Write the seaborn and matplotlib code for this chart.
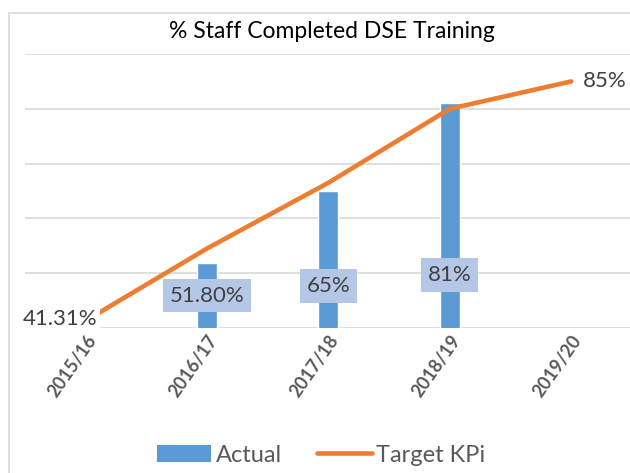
import numpy as np
import pandas as pd
import seaborn as sns
from matplotlib import pyplot as plt
from matplotlib.patches import Patch, Rectangle
from matplotlib.lines import Line2D

seasons = ["2015/16", "2016/17", "2017/18", "2018/19", "2019/20"]
actual = [np.nan, 51.8, 65, 81, np.nan]
actual_labels = ["", "51.80%", "65%", "81%", ""]
target = [41.31, 54.5, 66.5, 80, 85]

sns.set_style("white")
plt.rcParams["font.family"] = ["Lato", "DejaVu Sans"]

blue = "#5B9BD5"
orange = "#ED7D31"
grey_txt = "#404040"

df = pd.DataFrame({"Season": seasons, "Actual": actual, "Target": target})

fig = plt.figure(figsize=(6.3, 4.73), dpi=100)
ax = fig.add_axes([24.75 / 630, 145 / 473, 607.25 / 630, 274 / 473])

sns.barplot(data=df, x="Season", y="Actual", color=blue, width=0.165,
            saturation=1, ax=ax, zorder=2)
pos = np.arange(len(seasons))
sns.lineplot(x=pos, y=df["Target"], color=orange, linewidth=3.3,
             solid_capstyle="round", ax=ax, zorder=3)

ax.set_ylim(40, 90)
ax.set_xlim(-0.5, 4.5)
ax.set_yticks([40, 50, 60, 70, 80, 90])
ax.set_yticklabels([])
ax.tick_params(axis="y", length=0)
ax.yaxis.grid(True, color="#D9D9D9", linewidth=1.2, zorder=0)
ax.set_axisbelow(True)
for s in ax.spines.values():
    s.set_visible(False)
ax.set_xlabel("")
ax.set_ylabel("")
ax.set_xticks(pos)
ax.set_xticklabels(seasons, rotation=55, ha="right", va="top",
                   rotation_mode="anchor", fontsize=13, fontweight="bold",
                   color="#595959")
ax.tick_params(axis="x", length=0, pad=3)

# data labels for Actual (boxes placed a little above the bar base)
label_y = [None, 45.93, 47.66, 49.67, None]
for i, (lab, ly) in enumerate(zip(actual_labels, label_y)):
    if lab:
        ax.text(i, ly, lab, ha="center", va="center", fontsize=16,
                color=grey_txt, zorder=4,
                bbox=dict(boxstyle="square,pad=0.3", fc="#B4C7E7", ec="none"))

# target end labels
ax.annotate(f"{target[0]:.2f}%", (0, target[0]), xytext=(8.3, 1),
            textcoords="offset points", ha="right", va="center",
            fontsize=16, color=grey_txt, zorder=5,
            bbox=dict(boxstyle="square,pad=0.15", fc="white", ec="none"))
ax.annotate(f"{target[-1]:.0f}%", (4, target[-1]), xytext=(8, 0),
            textcoords="offset points", ha="left", va="center",
            fontsize=16, color=grey_txt, zorder=5, annotation_clip=False)

fig.text(332 / 630, 1 - 32 / 473, "% Staff Completed DSE Training",
         ha="center", va="center", fontsize=16.5, color="black")

handles = [Patch(facecolor=blue, edgecolor="none"),
           Line2D([0], [0], color=orange, linewidth=3.3, solid_capstyle="round")]
fig.legend(handles, ["Actual", "Target KPi"], loc="center",
           bbox_to_anchor=(321 / 630, 1 - 455 / 473), ncol=2, frameon=False,
           fontsize=17, handlelength=2.3, handletextpad=0.2,
           columnspacing=1.5, labelcolor="#595959")

fig.patches.append(Rectangle((9 / 630, -0.1), 2, 1 - 13 / 473 + 0.1,
                             transform=fig.transFigure, fill=False,
                             edgecolor="#D9D9D9", linewidth=1.2))

plt.savefig("out.png", dpi=100)
